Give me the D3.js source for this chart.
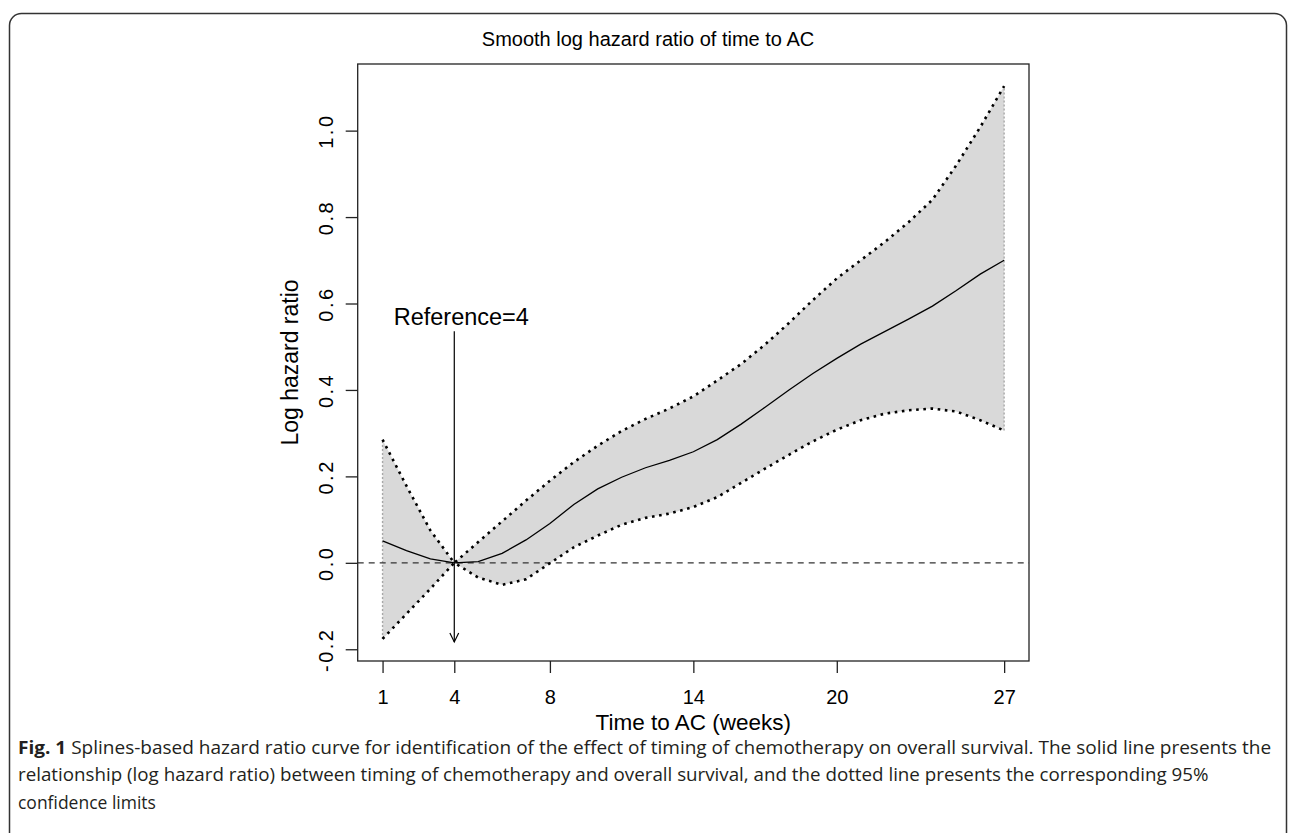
<!DOCTYPE html>
<html lang="en">
	<head>
		<meta charset="UTF-8">
		<title>Smooth log hazard ratio of time to AC</title>
		<script src="https://cdn.jsdelivr.net/npm/d3@7"></script>
		<style>
			body { margin: 0; background: #fff; }
			svg { display: block; }
			text { font-family: "Liberation Sans", Arial, sans-serif; fill: #000; }
			.caption text { font-family: "Open Sans", "Noto Sans", sans-serif; fill: #231f20; }
		</style>
	</head>
	<body>
		<div id="figure"></div>
		<script>
			// weeks from first visit to adjuvant chemotherapy
			const weeks = [1, 2, 3, 4, 5, 6, 7, 8, 9, 10, 11, 12, 13, 14, 15, 16, 17, 18, 19, 20, 21, 22, 23, 24, 25, 26, 27];
			const logHR = [0.051, 0.028, 0.009, 0.0, 0.003, 0.022, 0.053, 0.091, 0.135, 0.171, 0.198, 0.220, 0.237, 0.257,
				0.285, 0.321, 0.360, 0.400, 0.438, 0.473, 0.506, 0.535, 0.564, 0.594, 0.630, 0.668, 0.700];
			const upperCI = [0.285, 0.178, 0.075, 0.0, 0.048, 0.096, 0.144, 0.190, 0.233, 0.271, 0.305, 0.333, 0.357, 0.385,
				0.422, 0.460, 0.505, 0.555, 0.608, 0.658, 0.700, 0.742, 0.788, 0.840, 0.920, 1.008, 1.103];
			const lowerCI = [-0.176, -0.118, -0.060, 0.0, -0.034, -0.051, -0.038, -0.001, 0.036, 0.063, 0.088, 0.104, 0.114, 0.129,
				0.152, 0.185, 0.218, 0.250, 0.281, 0.308, 0.330, 0.345, 0.353, 0.357, 0.350, 0.330, 0.306];

			const xTicks = [1, 4, 8, 14, 20, 27];
			const yTicks = [-0.2, 0.0, 0.2, 0.4, 0.6, 0.8, 1.0];

			const refWeek = 4;
			const arrowFrom = 0.536;
			const arrowTo = -0.183;

			const title = "Smooth log hazard ratio of time to AC";
			const xLabel = "Time to AC (weeks)";
			const yLabel = "Log hazard ratio";
			const refLabel = "Reference=4";
			const captionLines = [
				["Fig. 1", " Splines-based hazard ratio curve for identification of the effect of timing of chemotherapy on overall survival. The solid line presents the"],
				["", "relationship (log hazard ratio) between timing of chemotherapy and overall survival, and the dotted line presents the corresponding 95%"],
				["", "confidence limits"]
			];
			const captionWidths = [1254, 1192, 138];

			const w = 1295;
			const h = 833;
			const plot = {left: 357.7, right: 1029, top: 64, bottom: 661};

			const svg = d3.select("#figure")
						  .append("svg")
						  .attr("width", w)
						  .attr("height", h);

			// rounded frame around the figure
			svg.append("rect")
			   .attr("x", 9.5)
			   .attr("y", 13.5)
			   .attr("width", 1277)
			   .attr("height", 860)
			   .attr("rx", 12)
			   .attr("fill", "none")
			   .attr("stroke", "#333")
			   .attr("stroke-width", 1.5);

			// R style: data range padded by 4% on each side
			const pad = ([a, b]) => [a - (b - a) * 0.04, b + (b - a) * 0.04];
			const xScale = d3.scaleLinear()
							 .domain(pad(d3.extent(weeks)))
							 .range([plot.left, plot.right]);
			const yScale = d3.scaleLinear()
							 .domain(pad([d3.min(lowerCI), d3.max(upperCI)]))
							 .range([plot.bottom, plot.top]);

			const pts = weeks.map((wk, i) => ({wk, fit: logHR[i], lo: lowerCI[i], hi: upperCI[i]}));

			const area = d3.area()
						   .x(d => xScale(d.wk))
						   .y0(d => yScale(d.lo))
						   .y1(d => yScale(d.hi));

			svg.append("path")
			   .datum(pts)
			   .attr("d", area)
			   .attr("fill", "#d9d9d9");

			// polygon edges at the two ends
			[0, weeks.length - 1].forEach(i => {
				svg.append("line")
				   .attr("x1", xScale(weeks[i]))
				   .attr("x2", xScale(weeks[i]))
				   .attr("y1", yScale(lowerCI[i]))
				   .attr("y2", yScale(upperCI[i]))
				   .attr("stroke", "#a8a8a8")
				   .attr("stroke-width", 1.4)
				   .attr("stroke-dasharray", "2,2");
			});

			// zero reference line
			svg.append("line")
			   .attr("x1", plot.left)
			   .attr("x2", plot.right)
			   .attr("y1", yScale(0))
			   .attr("y2", yScale(0))
			   .attr("stroke", "#333")
			   .attr("stroke-width", 1.2)
			   .attr("stroke-dasharray", "6,5");

			const lineFor = key => d3.line()
									 .x(d => xScale(d.wk))
									 .y(d => yScale(d[key]));

			["lo", "hi"].forEach(key => {
				svg.append("path")
				   .datum(pts)
				   .attr("d", lineFor(key))
				   .attr("fill", "none")
				   .attr("stroke", "#000")
				   .attr("stroke-width", 2.6)
				   .attr("stroke-dasharray", "2.6,4.6");
			});

			svg.append("path")
			   .datum(pts)
			   .attr("d", lineFor("fit"))
			   .attr("fill", "none")
			   .attr("stroke", "#000")
			   .attr("stroke-width", 1.3);

			// reference arrow
			const ax = xScale(refWeek);
			const tipY = yScale(arrowTo);
			svg.append("line")
			   .attr("x1", ax).attr("x2", ax)
			   .attr("y1", yScale(arrowFrom)).attr("y2", tipY)
			   .attr("stroke", "#000")
			   .attr("stroke-width", 1.2);
			svg.append("path")
			   .attr("d", `M${ax - 4.4},${tipY - 9} L${ax},${tipY} L${ax + 4.4},${tipY - 9}`)
			   .attr("fill", "none")
			   .attr("stroke", "#000")
			   .attr("stroke-width", 1.2);

			svg.append("text")
			   .attr("x", ax + 7)
			   .attr("y", yScale(arrowFrom) - 6)
			   .attr("text-anchor", "middle")
			   .attr("font-size", 23.5)
			   .text(refLabel);

			// plot box
			svg.append("rect")
			   .attr("x", plot.left)
			   .attr("y", plot.top)
			   .attr("width", plot.right - plot.left)
			   .attr("height", plot.bottom - plot.top)
			   .attr("fill", "none")
			   .attr("stroke", "#222")
			   .attr("stroke-width", 1.3);

			const xAxis = d3.axisBottom(xScale)
							.tickValues(xTicks)
							.tickSize(12)
							.tickPadding(17)
							.tickFormat(d3.format("d"));
			const gx = svg.append("g")
						  .attr("transform", `translate(0, ${plot.bottom})`)
						  .call(xAxis);
			gx.select(".domain").remove();
			gx.selectAll("line").attr("stroke", "#222").attr("stroke-width", 1.3);
			gx.selectAll("text")
			  .attr("font-size", 20)
			  .attr("font-family", "Liberation Sans, Arial, sans-serif")
			  .attr("fill", "#000");

			const yAxis = d3.axisLeft(yScale)
							.tickValues(yTicks)
							.tickSize(12)
							.tickFormat(d => d.toFixed(1));
			const gy = svg.append("g")
						  .attr("transform", `translate(${plot.left}, 0)`)
						  .call(yAxis);
			gy.select(".domain").remove();
			gy.selectAll("line").attr("stroke", "#222").attr("stroke-width", 1.3);
			gy.selectAll("text")
			  .attr("transform", "rotate(-90)")
			  .attr("x", 0)
			  .attr("y", -25)
			  .attr("dy", 0)
			  .attr("text-anchor", "middle")
			  .attr("font-size", 20)
			  .attr("letter-spacing", 2.5)
			  .attr("font-family", "Liberation Sans, Arial, sans-serif")
			  .attr("fill", "#000");

			svg.append("text")
			   .attr("x", 648)
			   .attr("y", 46)
			   .attr("text-anchor", "middle")
			   .attr("font-size", 20)
			   .text(title);

			svg.append("text")
			   .attr("x", (plot.left + plot.right) / 2)
			   .attr("y", 729.5)
			   .attr("text-anchor", "middle")
			   .attr("font-size", 22.5)
			   .text(xLabel);

			svg.append("text")
			   .attr("transform", `translate(298, ${(plot.top + plot.bottom) / 2}) rotate(-90)`)
			   .attr("text-anchor", "middle")
			   .attr("font-size", 23)
			   .text(yLabel);

			// caption, fitted to the line widths of the original type
			const cap = svg.append("g").attr("class", "caption");
			captionLines.forEach(([bold, rest], i) => {
				const t = cap.append("text")
							 .attr("x", 0)
							 .attr("y", 0)
							 .attr("font-size", 17.5);
				if (bold) t.append("tspan").attr("font-weight", "bold").text(bold);
				t.append("tspan").text(rest);
				const sx = captionWidths[i] / t.node().getComputedTextLength();
				t.attr("transform", `translate(18, ${754 + i * 27.3}) scale(${sx}, 1)`);
			});
		</script>
	</body>
</html>
